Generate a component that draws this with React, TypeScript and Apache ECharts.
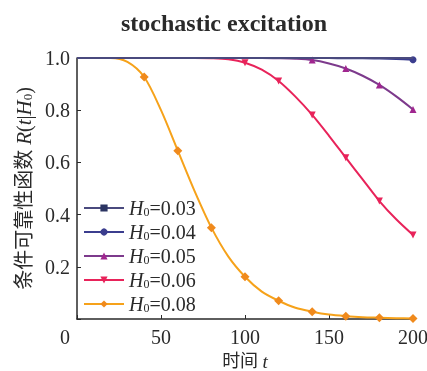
import React, { useEffect, useRef } from "react";
import * as echarts from "echarts";

const times = [0, 10, 20, 30, 40, 50, 60, 70, 80, 90, 100, 110, 120, 130, 140, 150, 160, 170, 180, 190, 200];
const seriesNames = ["H0=0.03", "H0=0.04", "H0=0.05", "H0=0.06", "H0=0.08"];
const r003 = [1, 1, 1, 1, 1, 1, 1, 1, 1, 1, 1, 1, 1, 1, 1, 1, 1, 1, 1, 1, 1];
const r004 = [1, 1, 1, 1, 1, 1, 1, 1, 1, 1, 1, 1, 1, 1, 1, 1, 0.999, 0.999, 0.998, 0.996, 0.993];
const r005 = [1, 1, 1, 1, 1, 1, 1, 1, 1, 1, 1, 1, 0.999, 0.997, 0.992, 0.979, 0.96, 0.932, 0.897, 0.853, 0.803];
const r006 = [1, 1, 1, 1, 1, 1, 1, 1, 0.999, 0.995, 0.982, 0.955, 0.912, 0.852, 0.782, 0.702, 0.618, 0.535, 0.452, 0.382, 0.322];
const r008 = [1, 1, 1, 0.985, 0.927, 0.8, 0.645, 0.49, 0.35, 0.24, 0.162, 0.105, 0.07, 0.043, 0.028, 0.017, 0.011, 0.007, 0.005, 0.003, 0.002];
const xTicks = [0, 50, 100, 150, 200];
const yTicks = [0.2, 0.4, 0.6, 0.8, 1.0];

const lineColors = ["#4a4a7e", "#3b3d8e", "#7d3a8c", "#e8235a", "#f6a21a"];
const markerColors = ["#2b3462", "#3b3d8e", "#a0268f", "#e8235a", "#f08a1c"];
const markerShapes = ["rect", "circle", "triangle", "triangle", "diamond"];
const markerRotate = [0, 0, 0, 180, 0];

const SERIF = "'Liberation Serif', 'Times New Roman', serif";
const CJK = "'Liberation Serif', 'Noto Sans CJK SC', serif";
const INK = "#2a2a2a";

export default function App() {
  const ref = useRef<HTMLDivElement>(null);
  useEffect(() => {
    if (!ref.current) return;
    const chart = echarts.init(ref.current, null, { renderer: "svg" });
    const all = [r003, r004, r005, r006, r008];
    const series = all.map((vals, k) => ({
      name: seriesNames[k],
      type: "line",
      smooth: 0.3,
      z: 10 - k,
      symbol: markerShapes[k],
      symbolSize: k === 4 ? 9 : 7,
      symbolRotate: markerRotate[k],
      showAllSymbol: true,
      lineStyle: { color: lineColors[k], width: 2 },
      itemStyle: { color: markerColors[k] },
      data: times.map((t, i) =>
        i % 2 === 0 && vals[i] < 0.995
          ? { value: [t, vals[i]] }
          : { value: [t, vals[i]], symbol: "none" }
      ),
    }));
    chart.setOption({
      animation: false,
      title: {
        text: "stochastic excitation",
        left: 219,
        textAlign: "center",
        top: 6,
        textStyle: { fontFamily: SERIF, fontSize: 24, fontWeight: "bold", color: INK },
      },
      grid: { left: 77, top: 58, width: 336, height: 261, outerBoundsMode: "none", containLabel: false },
      legend: {
        orient: "vertical",
        left: 78,
        top: 193,
        itemWidth: 40,
        itemHeight: 9,
        itemGap: 4,
        data: seriesNames,
        formatter: (n: string) => `{i|H}{s|0}{n|${n.slice(2)}}`,
        textStyle: {
          color: INK,
          fontFamily: SERIF,
          fontSize: 20,
          lineHeight: 20,
          rich: {
            i: { fontFamily: SERIF, fontStyle: "italic", fontSize: 20, color: INK },
            s: { fontFamily: SERIF, fontSize: 12, color: INK, padding: [8, 0, 0, 0] },
            n: { fontFamily: SERIF, fontSize: 20, color: INK },
          },
        },
      },
      xAxis: {
        type: "value",
        min: 0,
        max: 200,
        interval: 50,
        name: "{c|时间 }{i|t}",
        nameLocation: "middle",
        nameGap: 32,
        nameTextStyle: {
          rich: {
            c: { fontFamily: CJK, fontSize: 18, color: INK },
            i: { fontFamily: SERIF, fontStyle: "italic", fontSize: 19, color: INK },
          },
        },
        axisLine: { lineStyle: { color: INK, width: 1.5 } },
        axisTick: { inside: true, length: 4, lineStyle: { color: INK } },
        splitLine: { show: false },
        axisLabel: {
          color: INK,
          fontFamily: SERIF,
          fontSize: 20,
          margin: 8,
          formatter: (v: number) => (v === 0 ? "{z|0}" : String(v)),
          rich: { z: { fontFamily: SERIF, fontSize: 20, color: INK, padding: [0, 24, 0, 0] } },
        },
      },
      yAxis: {
        type: "value",
        min: 0,
        max: 1,
        interval: 0.2,
        name: "{c|条件可靠性函数 }{i|R}{c|(}{i|t}{c||}{i|H}{s|0}{c|)}",
        nameLocation: "middle",
        nameGap: 40,
        nameRotate: 90,
        nameTextStyle: {
          rich: {
            c: { fontFamily: CJK, fontSize: 20, color: INK },
            i: { fontFamily: SERIF, fontStyle: "italic", fontSize: 21, color: INK },
            s: { fontFamily: SERIF, fontSize: 13, color: INK, padding: [8, 0, 0, 0] },
          },
        },
        axisLine: { lineStyle: { color: INK, width: 1.5 } },
        axisTick: { inside: true, length: 4, lineStyle: { color: INK } },
        splitLine: { show: false },
        axisLabel: {
          color: INK,
          fontFamily: SERIF,
          fontSize: 20,
          margin: 7,
          formatter: (v: number) => (yTicks.some((t) => Math.abs(t - v) < 1e-9) ? v.toFixed(1) : ""),
        },
      },
      series,
    });
    return () => chart.dispose();
  }, []);
  return <div ref={ref} style={{ position: "fixed", left: 0, top: 0, width: 427, height: 371 }} />;
}
